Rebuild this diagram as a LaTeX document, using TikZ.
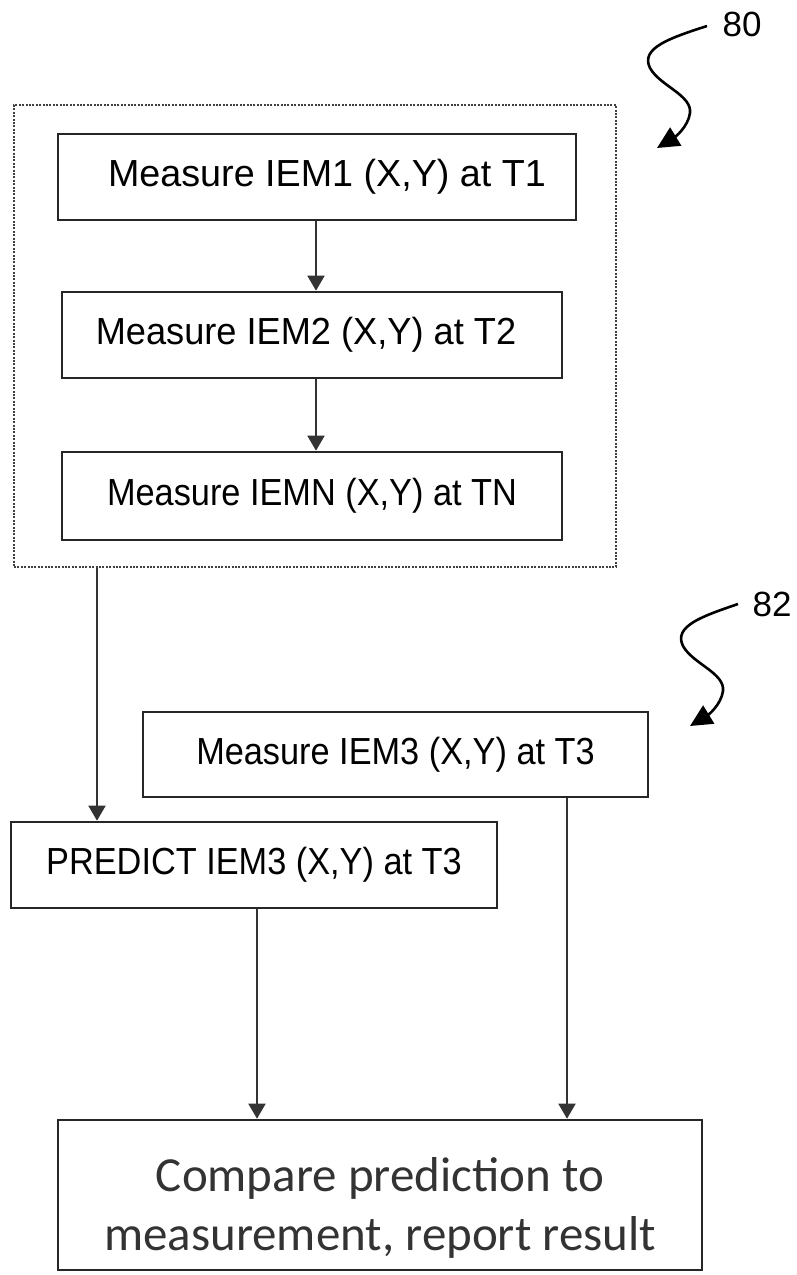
\documentclass[tikz,border=0pt]{standalone}
\usepackage{graphicx}
\usepackage{fontspec}
\setmainfont{Liberation Sans}
\newfontfamily\bodyfont{Carlito}
\usetikzlibrary{arrows.meta}
\begin{document}
\begin{tikzpicture}[x=1pt,y=-1pt,
  stepbox/.style={draw=black!85, line width=2.6pt, rectangle, inner sep=0pt,
    font=\fontsize{37.7}{44}\selectfont, text=black},
  groupbox/.style={draw=black!75, line width=2.6pt, dash pattern=on 2pt off 1.4pt,
    rectangle, inner sep=0pt},
  flow/.style={draw=black!80, line width=1.7pt, -{Triangle[width=17pt,length=15pt]}},
  squig/.style={line width=2.6pt, -{Triangle[width=21pt,length=22pt]}},
  tag/.style={font=\fontsize{35}{40}\selectfont, inner sep=0pt}]
\useasboundingbox (0,0) rectangle (796,1275);

% group of repeated measurements
\node[groupbox, minimum width=602pt, minimum height=462pt] (grp) at (315,336) {};
\node[stepbox, minimum width=518pt, minimum height=86pt] (m1) at (317,177)
  {\hspace*{20pt}Measure IEM1 (X,Y) at T1};
\node[stepbox, minimum width=500pt, minimum height=86pt] (m2) at (312,335)
  {\scalebox{0.96}[1]{Measure IEM2 (X,Y) at T2}\hspace*{12pt}};
\node[stepbox, minimum width=500pt, minimum height=88pt] (m3) at (312,496)
  {\scalebox{0.91}[1]{Measure IEMN (X,Y) at TN}};

% new measurement, prediction and comparison
\node[stepbox, minimum width=505pt, minimum height=85pt] (m3b) at (395.5,754.5)
  {\scalebox{0.91}[1]{Measure IEM3 (X,Y) at T3}};
\node[stepbox, minimum width=486pt, minimum height=86pt] (pred) at (254,865)
  {\scalebox{0.91}[1]{PREDICT IEM3 (X,Y) at T3}};
\node[stepbox, minimum width=644pt, minimum height=150pt, text=black!85,
  label={[font=\bodyfont\fontsize{49}{59}\selectfont, text=black!80,
    align=center, yshift=-13pt]center:{Compare prediction to\\measurement, report result}}]
  (cmp) at (380,1195) {};

% connectors
\coordinate (xa) at (316,0);
\coordinate (xb) at (97,0);
\coordinate (xc) at (257,0);
\coordinate (xd) at (567,0);
\draw[flow] (m1.south -| xa) -- (m2.north -| xa);
\draw[flow] (m2.south -| xa) -- (m3.north -| xa);
\draw[flow] (grp.south -| xb) -- (pred.north -| xb);
\draw[flow] (pred.south -| xc) -- (cmp.north -| xc);
\draw[flow] (m3b.south -| xd) -- (cmp.north -| xd);

% reference numerals with wavy leaders
\node[tag] (l80) at (742,24) {80};
\coordinate (s80) at (707,26);
\coordinate (e80) at (657,148);
\draw[squig] (s80) .. controls (670,38) and (640,48) .. (650,68)
  .. controls (660,86) and (692,95) .. (690,113)
  .. controls (688,127) and (675,137) .. (e80);

\node[tag] (l82) at (772,604) {82};
\coordinate (s82) at (738,604);
\coordinate (e82) at (690,726);
\draw[squig] (s82) .. controls (703,616) and (673,626) .. (683,646)
  .. controls (693,664) and (725,673) .. (723,691)
  .. controls (721,705) and (708,715) .. (e82);
\end{tikzpicture}
\end{document}
